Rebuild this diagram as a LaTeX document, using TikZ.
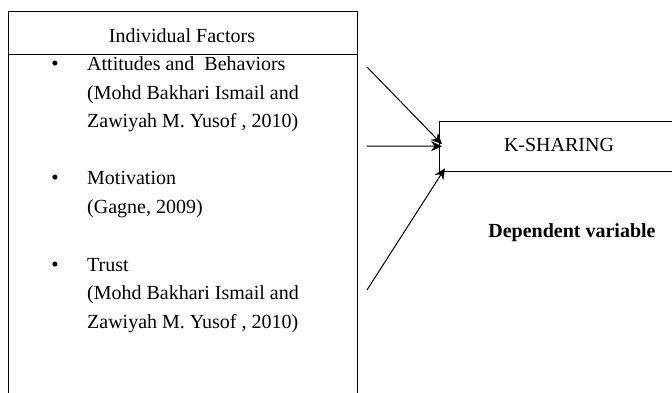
\documentclass[tikz,border=0pt]{standalone}
\usepackage{fontspec}
\setmainfont{Liberation Serif}
\usetikzlibrary{arrows.meta,positioning,calc}

\tikzset{
  framebox/.style={draw,line width=1pt,inner sep=0pt},
  itemtext/.style={anchor=base west,align=left,inner sep=0pt,
    font=\fontsize{20}{28.5}\selectfont},
  bullet/.style={anchor=base,inner sep=0pt,font=\fontsize{21}{28}\selectfont},
  feed/.style={line width=1pt,-{Stealth[length=11pt,width=10pt]}}
}

\begin{document}
\begin{tikzpicture}[x=1pt,y=-1pt]
    \useasboundingbox[fill=white] (0,0) rectangle (672,393);
    % independent side
    \node[framebox,anchor=north west,minimum width=349pt,minimum height=420pt] (factors) at (8,11.5) {};
    \draw[line width=1pt] ([yshift=-43.5pt]factors.north west) -- ([yshift=-43.5pt]factors.north east);
    \node[anchor=base,inner sep=0pt,font=\fontsize{20}{24}\selectfont] (hdr) at (182,43) {Individual Factors};
    % items (base anchor sits on the last line)
    \node[bullet] (b1) at (55,71) {\textbullet};
    \node[itemtext] (attitudes) at (87,128) {Attitudes and~ Behaviors\\(Mohd Bakhari Ismail and\\Zawiyah M. Yusof , 2010)};
    \node[bullet] (b2) at (55,185) {\textbullet};
    \node[itemtext] (motivation) at (87,213) {Motivation\\(Gagne, 2009)};
    \node[bullet] (b3) at (55,271) {\textbullet};
    \node[itemtext] (trust) at (87,328) {Trust\\(Mohd Bakhari Ismail and\\Zawiyah M. Yusof , 2010)};
    % dependent side
    \node[framebox,anchor=north west,minimum width=242pt,minimum height=49.5pt] (ksharing) at (439,121) {};
    \node[anchor=base,inner sep=0pt,font=\fontsize{20}{24}\selectfont] (ktext) at (559,151) {K-SHARING};
    \node[anchor=base,inner sep=0pt,font=\fontsize{20}{24}\selectfont\bfseries] (dep) at (572,237) {Dependent variable};
    % links
    \coordinate (s1) at (367,67);
    \coordinate (s2) at (367,146);
    \coordinate (s3) at (367,290);
    \draw[feed] (s1) -- ([xshift=3pt,yshift=2pt]ksharing.west);
    \draw[feed] (s2) -- ([xshift=3pt]ksharing.west);
    \draw[feed] (s3) -- ([xshift=6pt,yshift=-22pt]ksharing.west);
  \end{tikzpicture}
\end{document}
